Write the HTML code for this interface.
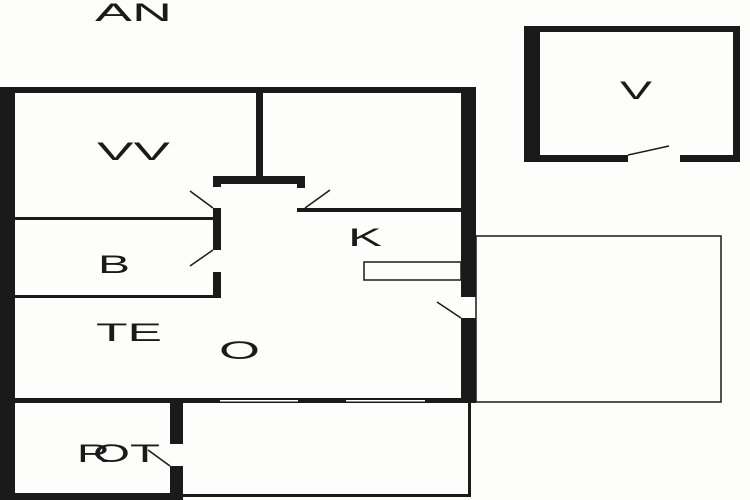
<!DOCTYPE html>
<html><head><style>html,body{margin:0;padding:0;background:#fff}svg{display:block}text{font-family:"Liberation Sans",sans-serif;font-size:25px;fill:#1a1a1a}</style></head>
<body>
<svg width="750" height="500" viewBox="0 0 750 500" xmlns="http://www.w3.org/2000/svg">
<rect width="750" height="500" fill="#fdfdfb"/>
<g fill="#1a1a1a">
<rect x="0" y="87" width="15" height="413"/>
<rect x="0" y="87" width="476" height="6"/>
<rect x="461" y="87" width="15" height="210"/>
<rect x="461" y="318" width="15" height="85"/>
<rect x="256" y="93" width="7" height="85"/>
<rect x="213" y="176" width="92" height="8"/>
<rect x="213" y="176" width="8" height="11"/>
<rect x="213" y="208" width="8" height="42"/>
<rect x="213" y="272" width="8" height="26"/>
<rect x="297" y="176" width="8" height="12"/>
<rect x="297" y="208" width="164" height="4"/>
<rect x="15" y="217" width="198" height="3"/>
<rect x="15" y="295" width="206" height="3"/>
<rect x="15" y="398" width="461" height="5"/>
<rect x="170" y="398" width="13" height="46"/>
<rect x="170" y="466" width="13" height="34"/>
<rect x="0" y="493" width="183" height="7"/>
<rect x="468" y="403" width="3" height="93"/>
<rect x="183" y="494" width="288" height="3"/>
<rect x="524" y="26" width="16" height="136"/>
<rect x="524" y="26" width="216" height="6"/>
<rect x="733" y="26" width="7" height="136"/>
<rect x="524" y="155" width="104" height="7"/>
<rect x="680" y="155" width="60" height="7"/>
</g>
<g fill="#fff"><rect x="220" y="400" width="78" height="1.5"/><rect x="346" y="400" width="79" height="1.5"/></g>
<g fill="none" stroke="#1a1a1a" stroke-width="1.5">
<rect x="476" y="236" width="245" height="166"/>
<rect x="364" y="262" width="97" height="18"/>
<line x1="190" y1="191" x2="213" y2="208"/>
<line x1="190" y1="266" x2="213" y2="250"/>
<line x1="305" y1="208" x2="330" y2="190"/>
<line x1="437" y1="302" x2="461" y2="318"/>
<line x1="148" y1="450" x2="170" y2="466"/>
<line x1="628" y1="155" x2="669" y2="146"/>
</g>
<g lengthAdjust="spacingAndGlyphs">
<text x="95" y="21" textLength="77" lengthAdjust="spacingAndGlyphs">AN</text>
<text x="620" y="99" textLength="32" lengthAdjust="spacingAndGlyphs">V</text>
<text x="97" y="160" textLength="73" lengthAdjust="spacingAndGlyphs">VV</text>
<text x="98" y="273" textLength="32" lengthAdjust="spacingAndGlyphs">B</text>
<text x="348" y="246" textLength="34" lengthAdjust="spacingAndGlyphs">K</text>
<text x="96" y="341" textLength="66" lengthAdjust="spacingAndGlyphs">TE</text>
<text x="219" y="359" textLength="41" lengthAdjust="spacingAndGlyphs">O</text>
<text x="77" y="462" textLength="33" lengthAdjust="spacingAndGlyphs">R</text>
<text x="93" y="462" textLength="37" lengthAdjust="spacingAndGlyphs">O</text>
<text x="130" y="462" textLength="30" lengthAdjust="spacingAndGlyphs">T</text>
</g>
</svg>
</body></html>
